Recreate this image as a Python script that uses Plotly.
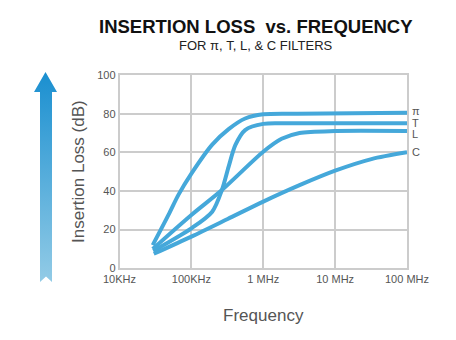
import plotly.graph_objects as go

# ---- data ----
freq_ticks = [1e4, 1e5, 1e6, 1e7, 1e8]
freq_labels = ["10KHz", "100KHz", "1 MHz", "10 MHz", "100 MHz"]
y_ticks = [0, 20, 40, 60, 80, 100]

pi_f = [2.9e4, 4.8e4, 6.6e4, 1e5, 1.95e5, 3.3e5, 5.6e5, 1e6, 3e6, 1e8]
pi_db = [12, 27.6, 38, 49, 64, 72, 77.5, 79.7, 80, 80.5]

t_f = [2.95e4, 1e5, 1.95e5, 2.66e5, 3.3e5, 4.1e5, 5.6e5, 1e6, 2e6, 1e8]
t_db = [9, 20.7, 29.3, 40.5, 52.6, 63.8, 71.5, 74.7, 75, 75]

l_f = [2.9e4, 1e5, 2.66e5, 1e6, 1.8e6, 3.2e6, 1e7, 1e8]
l_db = [10, 27.6, 40.5, 60.3, 67, 70, 71, 71]

c_f = [3e4, 1e5, 3.2e5, 1e6, 3.2e6, 1e7, 3.2e7, 1e8]
c_db = [7.5, 16.4, 25.5, 34.5, 43, 50.5, 56.5, 60]

series = [("π", pi_f, pi_db), ("T", t_f, t_db), ("L", l_f, l_db), ("C", c_f, c_db)]
line_color = "#45a8da"
text_grey = "#555555"
grid_grey = "#cccccc"

W, H = 456, 340
x0, x1 = 119.5, 407      # plot area in px
y0, y1 = 75, 268.3
AW = 62                  # width of arrow overlay area in px

fig = go.Figure()
for name, f, db in series:
    fig.add_trace(go.Scatter(x=f, y=db, mode="lines", name=name,
                             line=dict(color=line_color, width=4, shape="spline", smoothing=0.8),
                             showlegend=False, hoverinfo="skip"))

# decorative gradient arrow on the left (pixel coordinate overlay axes)
ax = [45.5, 57, 52, 52, 46, 40, 40, 34, 45.5]
ay = [72, 92, 92, 282, 276.5, 282, 92, 92, 72]
fig.add_trace(go.Scatter(x=ax, y=ay, xaxis="x2", yaxis="y2", mode="lines",
                         line=dict(width=0), fill="toself",
                         fillgradient=dict(type="vertical",
                                           colorscale=[[0, "#92cbe6"], [1, "#1a8fd0"]]),
                         showlegend=False, hoverinfo="skip"))

yshift = {"π": 2, "T": 0, "L": -3, "C": 0}
for name, f, db in series:
    fig.add_annotation(x=8, y=db[-1], xref="x", yref="y", text=name, showarrow=False,
                       xanchor="left", yanchor="middle", xshift=3, yshift=yshift[name],
                       font=dict(family="Liberation Sans, Arial", size=11, color=text_grey))

fig.add_annotation(x=256 / W, y=1 - 27 / H, xref="paper", yref="paper",
                   xanchor="center", yanchor="middle",
                   text="<b>INSERTION LOSS  vs. FREQUENCY</b>", showarrow=False,
                   font=dict(family="Liberation Sans, Arial", size=18.5, color="#111111"))
fig.add_annotation(x=256 / W, y=1 - 46 / H, xref="paper", yref="paper",
                   xanchor="center", yanchor="middle",
                   text="FOR π, T, L, & C FILTERS", showarrow=False,
                   font=dict(family="Liberation Sans, Arial", size=13, color="#222222"))

fig.update_layout(
    width=W, height=H, margin=dict(l=0, r=0, t=0, b=0),
    paper_bgcolor="white", plot_bgcolor="white",
    xaxis=dict(type="log", domain=[x0 / W, x1 / W], range=[4, 8],
               tickvals=freq_ticks, ticktext=freq_labels, ticks="",
               showgrid=True, gridcolor=grid_grey, gridwidth=1.5,
               showline=True, linecolor=grid_grey, linewidth=1.5, mirror=True,
               zeroline=False, automargin=False,
               tickfont=dict(family="Liberation Sans, Arial", size=11, color=text_grey),
               title=dict(text="Frequency", standoff=25,
                          font=dict(family="Liberation Sans, Arial", size=17, color=text_grey))),
    yaxis=dict(domain=[1 - y1 / H, 1 - y0 / H], range=[0, 100], tickvals=y_ticks,
               showgrid=True, gridcolor=grid_grey, gridwidth=1.5,
               showline=True, linecolor=grid_grey, linewidth=1.5, mirror=True,
               zeroline=False, automargin=False, ticks="",
               tickfont=dict(family="Liberation Sans, Arial", size=11, color=text_grey),
               title=dict(text="Insertion Loss (dB)", standoff=8,
                          font=dict(family="Liberation Sans, Arial", size=17, color=text_grey))),
    xaxis2=dict(domain=[0, AW / W], range=[0, AW], visible=False, fixedrange=True),
    yaxis2=dict(domain=[0, 1], range=[H, 0], visible=False, fixedrange=True, anchor="x2"),
)
fig.write_html("out.html")
